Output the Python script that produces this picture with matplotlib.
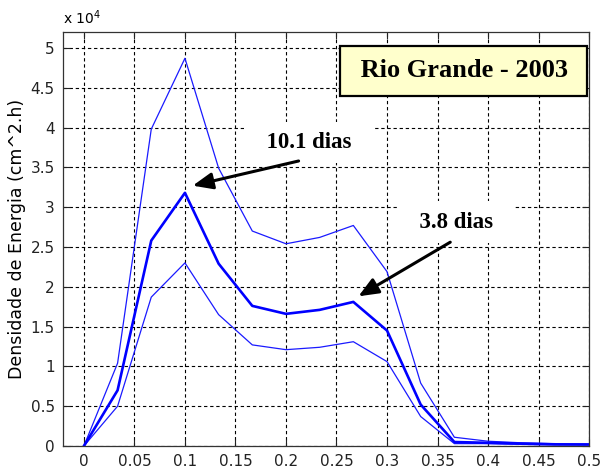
import numpy as np
import matplotlib.pyplot as plt

# ------------------------------------------------------------
# dados (x 10^4)
# ------------------------------------------------------------
freq = [0, 1/30, 2/30, 3/30, 4/30, 5/30, 6/30, 7/30, 8/30, 9/30,
        10/30, 11/30, 12/30, 13/30, 14/30, 15/30]

energia_sup = [0, 1.04, 3.98, 4.87, 3.49, 2.70, 2.54, 2.62, 2.77, 2.19,
               0.79, 0.11, 0.06, 0.04, 0.03, 0.02]
energia_med = [0, 0.70, 2.58, 3.18, 2.29, 1.76, 1.66, 1.71, 1.81, 1.45,
               0.52, 0.05, 0.04, 0.03, 0.02, 0.02]
energia_inf = [0, 0.50, 1.87, 2.30, 1.65, 1.27, 1.21, 1.24, 1.31, 1.06,
               0.37, 0.03, 0.03, 0.02, 0.015, 0.01]

xticks = [0, 0.05, 0.1, 0.15, 0.2, 0.25, 0.3, 0.35, 0.4, 0.45, 0.5]
xticklabels = ["0", "0.05", "0.1", "0.15", "0.2", "0.25", "0.3", "0.35", "0.4", "0.45", "0.5"]
yticks = [0, 0.5, 1, 1.5, 2, 2.5, 3, 3.5, 4, 4.5, 5]
yticklabels = ["0", "0.5", "1", "1.5", "2", "2.5", "3", "3.5", "4", "4.5", "5"]

titulo = "Rio Grande - 2003"
pico1 = "10.1 dias"
pico2 = "3.8 dias"

# ------------------------------------------------------------
# figura
# ------------------------------------------------------------
fig = plt.figure(figsize=(6.04, 4.68), dpi=100)
ax = fig.add_axes([0.1043, 0.047, 0.871, 0.8846])

ax.plot(freq, energia_sup, color="#1a1aff", lw=0.9)
ax.plot(freq, energia_inf, color="#1a1aff", lw=0.9)
ax.plot(freq, energia_med, color="#0000ff", lw=1.9)

ax.set_xlim(-0.0207, 0.5)
ax.set_ylim(0, 5.2)
ax.set_xticks(xticks)
ax.set_xticklabels(xticklabels)
ax.set_yticks(yticks)
ax.set_yticklabels(yticklabels)
ax.tick_params(direction="in", length=5, width=0.8, top=True, right=True,
               labelsize=11, colors="#222222", pad=6)
for s in ax.spines.values():
    s.set_color("#333333")
    s.set_linewidth(0.9)

ax.grid(True, color="black", linestyle=(0, (3, 2.5)), lw=0.8)
ax.set_axisbelow(True)

ax.set_ylabel("Densidade de Energia (cm^2.h)", fontsize=12.5, labelpad=3)
ax.text(0.0, 1.012, r"x 10$^{4}$", transform=ax.transAxes, fontsize=10,
        ha="left", va="bottom")

# caixa do título
ax.text(0.762, 0.906, " " + titulo + " ", transform=ax.transAxes, ha="center",
        va="center", fontsize=19, fontweight="bold", family="Liberation Serif",
        zorder=5,
        bbox=dict(boxstyle="square,pad=0.5", facecolor="#ffffcc",
                  edgecolor="black", lw=1.6))

# rótulos dos picos
for txt, xt, yt in [(pico1, 0.2223, 3.81), (pico2, 0.3686, 2.81)]:
    ax.text(xt, yt, "  " + txt + "  ", ha="center", va="center", fontsize=16.5,
            fontweight="bold", family="Liberation Serif", zorder=4,
            bbox=dict(boxstyle="square,pad=0.45", facecolor="white",
                      edgecolor="none"))

arrow = dict(arrowstyle="-|>,head_length=0.6,head_width=0.25", color="black",
             lw=2.2, mutation_scale=20, shrinkA=0, shrinkB=0)
ax.annotate("", xy=(0.1077, 3.27), xytext=(0.2125, 3.58), arrowprops=arrow, zorder=6)
ax.annotate("", xy=(0.2717, 1.88), xytext=(0.3626, 2.56), arrowprops=arrow, zorder=6)

fig.savefig("out.png", dpi=100)
